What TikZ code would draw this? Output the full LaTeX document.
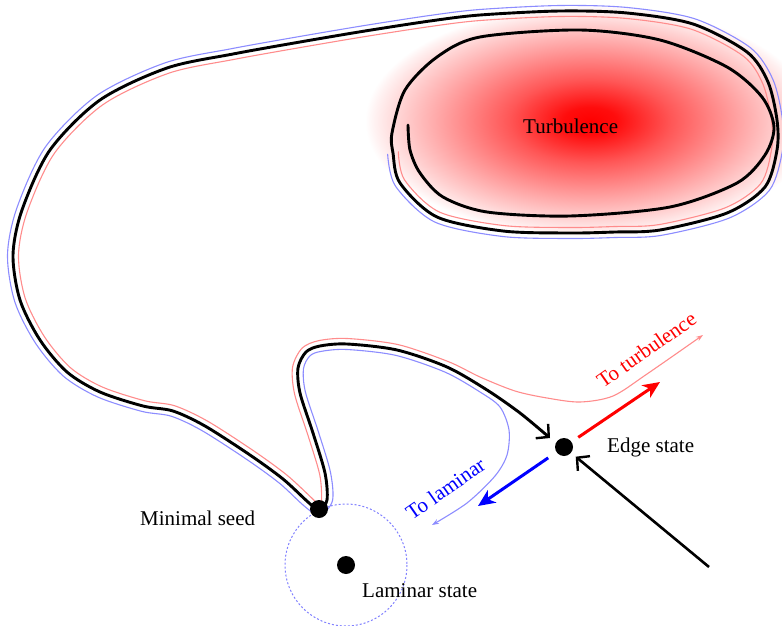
\documentclass[tikz,border=0pt]{standalone}
\usepackage{fontspec}
\setmainfont{Liberation Serif}
\usetikzlibrary{arrows.meta,calc}
\pgfdeclareradialshading{turbshade}{\pgfpoint{0bp}{0bp}}{color(0bp)=(red); color(3bp)=(red!95); color(9bp)=(red!66); color(16bp)=(red!38); color(21bp)=(red!18); color(24bp)=(red!5); color(25bp)=(white); color(50bp)=(white)}
\begin{document}
\begin{tikzpicture}[x=1pt,y=-1pt,
  traj/.style={line width=2.9pt, line cap=round, line join=round},
  redthin/.style={draw=red!45, line width=1.1pt, line join=round, line cap=round},
  bluethin/.style={draw=blue!45, line width=1.1pt, line join=round, line cap=round},
  dotnode/.style={circle, fill=black, inner sep=0pt, minimum size=18pt},
  lbl/.style={font=\fontsize{21}{25}\selectfont, inner sep=0pt},
  bigarrow/.style={line width=3pt, -{Stealth[length=17pt,width=15pt,inset=5pt]}},
  barb/.style={-{Straight Barb[length=9pt,width=19pt,line width=2.4pt]}}
]
\useasboundingbox (0,0) rectangle (782,626);
\clip (0,0) rectangle (782,626);

% turbulence cloud
\shade[shading=turbshade] (590,121) ellipse (225 and 116);

% guide points of the common part of the trajectory
\foreach \x/\y [count=\i] in {393/153, 400/183, 437/217, 503/231, 570/233, 615/232, 660/230, 727/213, 765/187, 777/150, 777/120, 768/82, 747/52, 693/24, 627/13, 560/11, 480/15, 430/21, 365/31, 300/42, 233/54, 167/68, 100/100, 50/150, 22/210, 13/255, 20/300, 40/340, 67/372, 100/392, 143/406, 173/411, 205/426, 250/455, 283/479, 308/502, 319/510, 327/500, 325/473, 313/433, 300/393, 298/368, 306/352, 320/346, 347/344, 397/350, 447/367}
  {\coordinate (c\i) at (\x,\y);}
% offset points: red on the left of travel, blue on the right
\coordinate (r1) at ($(c1)!5.5pt!90:(c2)$);
\coordinate (b1) at ($(c1)!5.5pt!-90:(c2)$);
\foreach \i in {2,...,46} {
  \pgfmathtruncatemacro\ip{\i+1}
  \pgfmathtruncatemacro\im{\i-1}
  \coordinate (tr) at ($(c\im)!5.5pt!90:(c\ip)$);
  \coordinate (tb) at ($(c\im)!5.5pt!-90:(c\ip)$);
  \coordinate (r\i) at ($(c\i)+(tr)-(c\im)$);
  \coordinate (b\i) at ($(c\i)+(tb)-(c\im)$);
}
\coordinate (tr) at ($(c46)!5.5pt!90:(c47)$);
\coordinate (tb) at ($(c46)!5.5pt!-90:(c47)$);
\coordinate (r47) at ($(c47)+(tr)-(c46)$);
\coordinate (b47) at ($(c47)+(tb)-(c46)$);

% red (turbulent side) and blue (laminar side) neighbouring trajectories
\draw[redthin, -{Stealth[length=7pt,width=5pt]}] plot[smooth] coordinates {(r1) (r2) (r3) (r4) (r5) (r6) (r7) (r8) (r9) (r10) (r11) (r12) (r13) (r14) (r15) (r16) (r17) (r18) (r19) (r20) (r21) (r22) (r23) (r24) (r25) (r26) (r27) (r28) (r29) (r30) (r31) (r32) (r33) (r34) (r35) (r36) (r37) (r38) (r39) (r40) (r41) (r42) (r43) (r44) (r45) (r46) (r47) (480,377) (515,391) (547,398) (580,402) (613,396) (647,374) (703,335)};
\draw[bluethin, -{Stealth[length=7pt,width=5pt]}] plot[smooth] coordinates {(b1) (b2) (b3) (b4) (b5) (b6) (b7) (b8) (b9) (b10) (b11) (b12) (b13) (b14) (b15) (b16) (b17) (b18) (b19) (b20) (b21) (b22) (b23) (b24) (b25) (b26) (b27) (b28) (b29) (b30) (b31) (b32) (b33) (b34) (b35) (b36) (b37) (b38) (b39) (b40) (b41) (b42) (b43) (b44) (b45) (b46) (b47) (480,392) (500,407) (509,430) (507,455) (495,476) (467,503) (432,525)};

% main black trajectory
\draw[traj, barb] plot[smooth] coordinates {(408,125) (410,150) (420,173) (443,197) (487,212) (570,216) (670,207) (737,183) (765,155) (774,127) (762,97) (727,67) (660,40) (580,30) (480,37) (437,57) (405,90) (392,133) (393,153) (400,183) (437,217) (503,231) (570,233) (615,232) (660,230) (727,213) (765,187) (777,150) (777,120) (768,82) (747,52) (693,24) (627,13) (560,11) (480,15) (430,21) (365,31) (300,42) (233,54) (167,68) (100,100) (50,150) (22,210) (13,255) (20,300) (40,340) (67,372) (100,392) (143,406) (173,411) (205,426) (250,455) (283,479) (308,502) (319,510) (327,500) (325,473) (313,433) (300,393) (298,368) (306,352) (320,346) (347,344) (397,350) (447,367) (487,390) (520,413) (550,438)};

% states
\node[dotnode] (lam) at (346,565) {};
\draw[blue!50, line width=1pt, dash pattern=on 2pt off 2pt] (lam) circle (61);
\node[dotnode] (seed) at (319,509) {};
\node[dotnode] (edge) at (564,447) {};

% stable / unstable directions of the edge state
\coordinate (inA) at (709,567);
\coordinate (toT) at (660,382);
\coordinate (toL) at (478,506);
\draw[barb, line width=2.6pt, shorten >=6pt] (inA) -- (edge);
\draw[bigarrow, red, shorten <=8pt] (edge) -- (toT);
\draw[bigarrow, blue, shorten <=10pt] (edge) -- (toL);

% labels
\node[lbl, anchor=base west] (tturb) at (523,133) {Turbulence};
\node[lbl, anchor=base west] (tedge) at (607,452) {Edge state};
\node[lbl, anchor=base west] (tlam) at (362,597) {Laminar state};
\node[lbl, anchor=base west] (tseed) at (140,525) {Minimal seed};
\node[lbl, red, anchor=base west, rotate=35] (tto) at (603,389) {To turbulence};
\node[lbl, blue, anchor=base west, rotate=35] (tlo) at (412,521) {To laminar};
\end{tikzpicture}
\end{document}
